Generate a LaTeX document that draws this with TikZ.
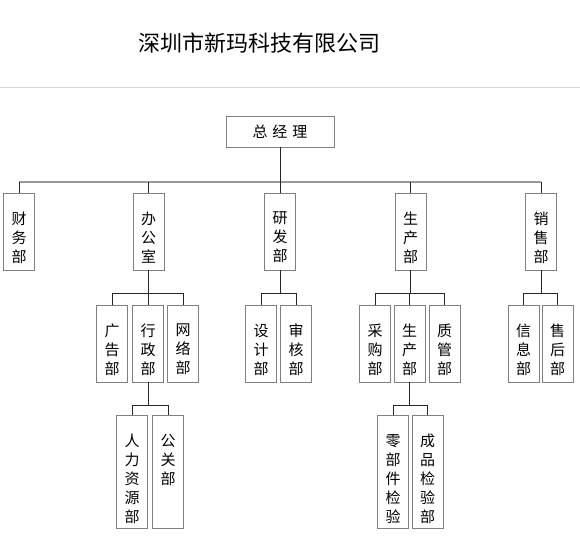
\documentclass[tikz,border=0pt]{standalone}
\usepackage{fontspec}
\newfontfamily\cjk{Noto Sans CJK SC}
\newcommand{\vdept}[2]{\parbox[c][#1][t]{31pt}{\centering\vspace*{19pt}#2}}
\begin{document}
\begin{tikzpicture}[x=1pt,y=-1pt,
  every node/.style={font=\cjk\fontsize{15}{19}\selectfont, inner sep=0pt, outer sep=0pt},
  box/.style={draw=black!50, line width=0.6pt, fill=white,
    append after command={\pgfextra{\draw[black!80,line width=1.2pt] (\tikzlastnode.north east) -- (\tikzlastnode.south east) -- (\tikzlastnode.south west);}}},
  link/.style={draw=black!85, line width=0.6pt},
  bus/.style={draw=black!40, line width=1.2pt}]
\useasboundingbox (0,0) rectangle (580,540);
\node (title) at (259,43) {\fontsize{22}{26}\selectfont 深圳市新玛科技有限公司};
\draw[black!15, line width=1.5pt] (0,87.5) -- (580,87.5);
% top
\node[box, minimum width=108, minimum height=31] (gm) at (280,131.5) {总\hspace{5pt}经\hspace{5pt}理};
% level 1
\node[box] (cw) at (19,231.5) {\vdept{77pt}{财\\务\\部}};
\node[box] (bg) at (148.5,231.5) {\vdept{77pt}{办\\公\\室}};
\node[box] (yf) at (280,231.5) {\vdept{77pt}{研\\发\\部}};
\node[box] (sc) at (410.5,231.5) {\vdept{77pt}{生\\产\\部}};
\node[box] (xs) at (541,231.5) {\vdept{77pt}{销\\售\\部}};
% level 2
\node[box] (gg) at (112,343.5) {\vdept{77pt}{广\\告\\部}};
\node[box] (xz) at (148,343.5) {\vdept{77pt}{行\\政\\部}};
\node[box] (wl) at (183,343.5) {\vdept{77pt}{网\\络\\部}};
\node[box] (sj) at (261,343.5) {\vdept{77pt}{设\\计\\部}};
\node[box] (sh) at (296,343.5) {\vdept{77pt}{审\\核\\部}};
\node[box] (cg) at (375,343.5) {\vdept{77pt}{采\\购\\部}};
\node[box] (scb) at (409.5,343.5) {\vdept{77pt}{生\\产\\部}};
\node[box] (zg) at (444.5,343.5) {\vdept{77pt}{质\\管\\部}};
\node[box] (xx) at (523.5,343.5) {\vdept{77pt}{信\\息\\部}};
\node[box] (shh) at (557.5,343.5) {\vdept{77pt}{售\\后\\部}};
% level 3
\node[box] (rl) at (132,471.5) {\vdept{113pt}{人\\力\\资\\源\\部}};
\node[box] (gx) at (168,471.5) {\vdept{113pt}{公\\关\\部}};
\node[box] (lj) at (393,471.5) {\vdept{113pt}{零\\部\\件\\检\\验}};
\node[box] (cp) at (427.5,471.5) {\vdept{113pt}{成\\品\\检\\验\\部}};
% connectors
\coordinate (busl) at (19,182);
\coordinate (busr) at (541,182);
\draw[bus] (busl) -- (busr);
\draw[link] (gm.south) -- (gm.south |- busl);
\foreach \d in {cw,bg,yf,sc,xs}
  \draw[link] (\d.north) -- (\d.north |- busl);
\foreach \p/\a/\b in {bg/gg/wl,yf/sj/sh,sc/cg/zg,xs/xx/shh}{
  \draw[link] (\p.south) -- ++(0,23);
  \draw[link] (\a.north) -- ++(0,-12) -| (\b.north);
}
\foreach \m in {xz,scb}
  \draw[link] (\m.north) -- ++(0,-12);
\foreach \p/\a/\b in {xz/rl/gx,scb/lj/cp}{
  \draw[link] (\p.south) -- ++(0,23);
  \draw[link] (\a.north) -- ++(0,-10) -| (\b.north);
}
\end{tikzpicture}
\end{document}
